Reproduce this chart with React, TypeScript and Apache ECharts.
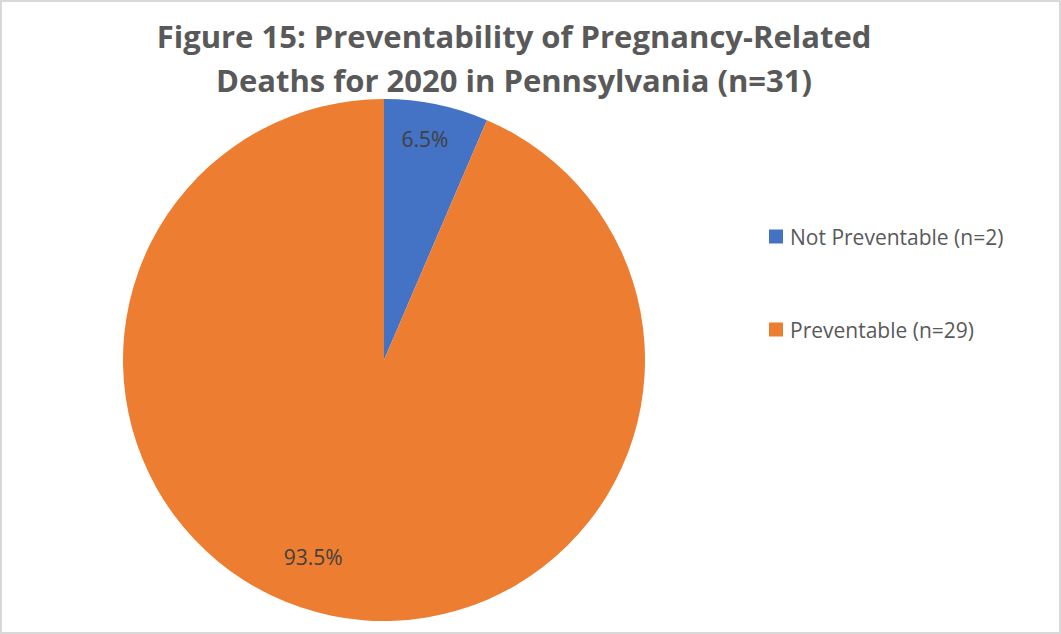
import React, { useEffect, useRef } from "react";
import * as echarts from "echarts";

const categories = ["Not Preventable (n=2)", "Preventable (n=29)"];
const values = [2, 29];
const colors = ["#4472C4", "#ED7D31"];
const titleLines = [
  "Figure 15: Preventability of Pregnancy-Related",
  "Deaths for 2020 in Pennsylvania (n=31)",
];

export default function App() {
  const ref = useRef<HTMLDivElement>(null);
  useEffect(() => {
    document.body.style.margin = "0";
    const chart = echarts.init(ref.current!, null, { renderer: "svg" });
    const total = values.reduce((a, b) => a + b, 0);
    const labelOffsets = [
      [14, -90],
      [-44, 66],
    ];
    chart.setOption({
      animation: false,
      backgroundColor: "#ffffff",
      title: {
        text: titleLines.join("\n"),
        left: 509,
        top: 9,
        textAlign: "center",
        textStyle: {
          fontFamily: "Open Sans",
          fontWeight: "bold",
          fontSize: 31,
          lineHeight: 44,
          color: "#595959",
        },
      },
      legend: {
        orient: "vertical",
        left: 769,
        top: 226,
        padding: 0,
        itemWidth: 14,
        itemHeight: 14,
        itemGap: 72,
        icon: "rect",
        textStyle: {
          fontFamily: "Open Sans",
          fontSize: 21,
          lineHeight: 14,
          color: "#595959",
          padding: [0, 0, 0, 2],
        },
        data: categories,
      },
      graphic: [
        {
          type: "rect",
          shape: { x: 1, y: 1, width: 1059, height: 632 },
          style: { fill: "none", stroke: "#d9d9d9", lineWidth: 2 },
          silent: true,
        },
      ],
      series: [
        {
          type: "pie",
          center: [384, 360],
          radius: 261,
          startAngle: 90,
          clockwise: true,
          itemStyle: { borderWidth: 0 },
          label: {
            show: true,
            position: "inside",
            fontFamily: "Open Sans",
            fontSize: 21,
            color: "#404040",
            formatter: (p: any) => ((p.value / total) * 100).toFixed(1) + "%",
          },
          labelLine: { show: false },
          labelLayout: (p: any) => ({
            dx: labelOffsets[p.dataIndex][0],
            dy: labelOffsets[p.dataIndex][1],
          }),
          data: categories.map((name, i) => ({
            name,
            value: values[i],
            itemStyle: { color: colors[i] },
          })),
        },
      ],
    });
    return () => chart.dispose();
  }, []);
  return <div ref={ref} style={{ width: 1061, height: 634 }} />;
}
